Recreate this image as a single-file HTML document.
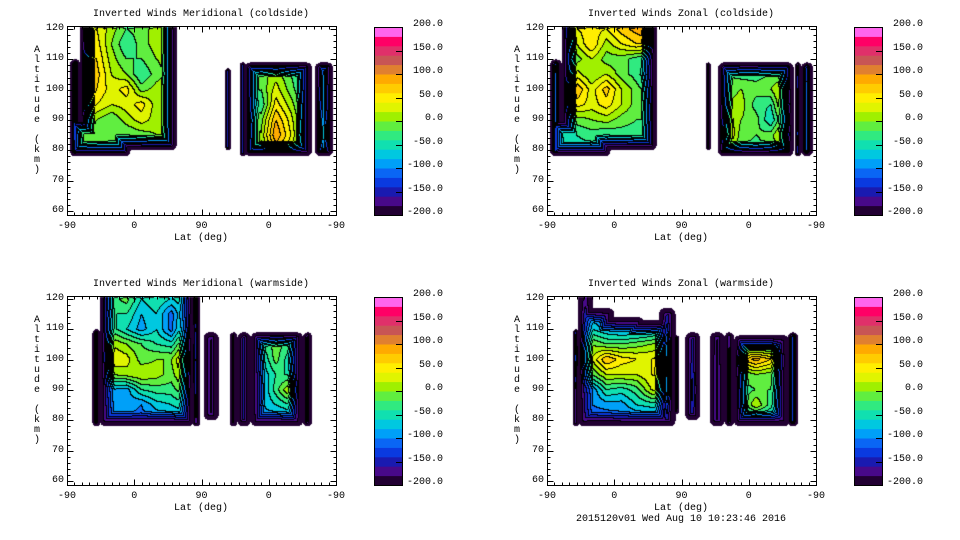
<!DOCTYPE html>
<html><head><meta charset="utf-8">
<style>
html,body{margin:0;padding:0;background:#fff;}
#root{position:relative;width:960px;height:540px;overflow:hidden;font-family:"Liberation Mono",monospace;font-size:10px;color:#000;}
.t{position:absolute;white-space:pre;line-height:10px;}
canvas,svg{position:absolute;left:0;top:0;}
</style></head>
<body>
<div id="root">
<canvas id="cv" width="960" height="540"></canvas>
<svg id="sv" width="960" height="540"></svg>
</div>
<script>
// grid columns: u = 0..360 step 20 (lat -90..90..-90), rows: alt 120..80 step 5
const gridU = [0,20,40,60,80,100,120,140,160,180,200,220,240,260,280,300,320,340,360];
const gridAlt = [120,115,110,105,100,95,90,85,80];
const levels = [-200,-180,-160,-140,-120,-100,-80,-60,-40,-20,0,20,40,60,80,100,120,140,160,180,200];
const cbarTicks = ["200.0","150.0","100.0","50.0","0.0","-50.0","-100.0","-150.0","-200.0"];
const xTickLabels = ["-90","0","90","0","-90"];
const yTickLabels = ["120","110","100","90","80","70","60"];

const tlGrid = [
[20,30,40,10,-20,-10,10,10,0,0,0,-20,-10,-10,-10,-10,-40,-60,-60],
[20,50,50,0,-40,-10,10,10,0,0,0,-20,0,-10,0,-20,-40,-60,-60],
[20,60,60,10,-20,-20,0,10,0,0,0,-20,0,-10,0,-20,-40,-60,-60],
[0,90,70,20,0,-40,-10,10,0,0,0,-20,10,-10,10,-20,-50,-60,-60],
[0,110,60,30,50,-10,10,10,0,0,0,-20,20,-20,30,-10,-50,-50,-60],
[0,80,40,20,30,50,10,10,0,0,0,-20,40,-40,50,10,-40,-40,-60],
[0,40,0,-20,10,30,10,10,0,0,0,-20,60,-10,80,30,-40,-30,-60],
[-10,0,-10,-20,-20,-10,0,0,0,0,0,-20,40,0,100,40,-40,-20,-60],
[-20,-10,-20,-20,-20,-20,-10,-10,0,0,0,-20,20,0,60,20,-40,-40,-60]];
const trGrid = [
[0,0,40,50,40,70,90,110,0,0,0,-40,-40,-40,-40,-40,-40,0,0],
[0,-10,20,60,10,40,60,60,0,0,0,-40,-40,-40,-40,-40,-40,0,0],
[0,-40,-10,20,-10,-10,-30,-50,0,0,0,-40,-40,-40,-40,-40,-40,-40,-40],
[0,-20,30,0,20,-10,-30,-70,0,0,0,-40,-20,-30,-30,-20,-20,-40,-40],
[0,30,80,30,70,20,-10,-40,0,0,0,-40,-10,0,-10,0,40,40,-40],
[0,20,50,30,50,20,-10,-20,0,0,0,-40,0,10,-30,-40,50,50,-40],
[0,-20,-10,0,10,-10,-20,-20,0,0,0,-40,40,0,-10,-60,20,60,-40],
[0,-40,-40,-30,-40,-30,-30,-30,0,0,0,-40,60,-10,-20,-10,50,60,-40],
[0,-50,-50,-50,-50,-50,-40,-40,0,0,0,-40,20,-20,-30,-20,20,20,-40]];
const blGrid = [
[0,0,-60,-30,-10,-60,-40,-60,-40,0,0,-120,-120,-80,-60,-80,-120,0,0],
[0,0,-60,-40,-40,-80,-60,-110,-40,0,0,-120,-120,-80,-60,-80,-120,0,0],
[0,0,-60,-30,-60,-90,-60,-110,-20,-130,-130,-120,-120,-60,-40,-60,-120,0,0],
[0,0,-40,20,0,-20,-40,-50,20,-130,-130,-120,-120,-40,-10,-30,-120,0,0],
[0,0,-30,40,30,-10,0,0,60,-130,-130,-120,-120,-70,-10,-60,-120,0,0],
[0,0,-50,0,10,20,10,-10,40,-130,-130,-120,-120,-80,-40,-40,-120,0,0],
[0,0,-60,-80,-90,-40,-30,-30,0,-130,-130,-120,-120,-90,-30,30,-120,0,0],
[0,0,-80,-90,-90,-100,-70,-60,-40,-130,-130,-120,-120,-80,-60,-40,-120,0,0],
[0,0,-100,-100,-100,-110,-100,-100,-80,-130,-130,-120,-120,-100,-100,-90,-120,0,0]];
const brGrid = [
[0,0,-120,-140,-180,-180,-180,-180,-180,0,0,0,0,0,0,0,0,0,0],
[0,0,-60,-100,-130,-140,-140,-140,-120,0,0,0,0,0,0,0,0,0,0],
[0,0,0,-60,-80,-90,-90,-80,-60,-120,-120,-140,-140,-60,-60,-60,-140,0,0],
[0,0,60,0,-20,-20,-10,0,20,-120,-120,-140,-140,-60,-60,-60,-140,0,0],
[0,0,90,20,80,50,40,40,60,-120,-120,-140,-130,60,90,60,-140,0,0],
[0,0,30,-20,20,20,20,40,50,-100,-100,-140,-120,-20,0,-10,-140,0,0],
[0,0,-60,-100,-40,-50,-30,20,40,-90,-90,-140,-120,-30,-20,-20,-140,0,0],
[0,0,-90,-100,-90,-90,-60,-50,-50,-100,-100,-140,-120,-40,20,-30,-140,0,0],
[0,0,-110,-120,-120,-110,-110,-110,-100,-120,-120,-140,-120,-80,-80,-80,-140,0,0]];

// data-coverage regions: [u0,u1,alt0,alt1,falloffPx]
const tlRegions = [[4,18,78,110,8],[18,147,80,125,13],[4,85,78,90,13],[212,219,80,107,4],[231,240,78,109,6],[238,328,78,109,13],[332,356,78,109,9]];
const trRegions = [[4,20,78,110,8],[20,147,80,125,13],[4,85,78,90,13],[213,219,80,109,4],[229,330,78,109,13],[332,340,78,109,5],[340,356,78,109,8]];
const blRegions = [[34,45,78,110,6],[44,170,78,125,13],[168,178,78,125,5],[183,203,80,109,9],[218,228,78,109,6],[228,246,78,109,8],[246,316,78,109,13],[316,328,78,109,6]];
const brRegions = [[35,43,78,110,5],[42,62,78,125,12],[42,90,78,117,13],[42,130,78,114,13],[42,165,78,113,13],[150,172,78,117,12],[170,177,82,108,4],[185,205,80,109,9],[218,238,78,109,8],[238,250,78,109,6],[250,325,78,108,13],[322,336,78,109,6]];

const bandColors = ["#220033","#48098a","#1a1ab0","#0a3ae0","#0a66f5","#00a0f8","#00c8e0","#10e0b0","#30ea80","#60ee40",
"#a0f000","#e0f400","#ffee00","#ffcc00","#ffaa00","#e08030","#c85555","#e0306a","#ff0066","#ff44bb"];
const bandTop = "#ff66ee";

const panels = [
 {name:"meridional-coldside",title:"Inverted Winds Meridional (coldside)",ox:0,oy:0,grid:tlGrid,regions:tlRegions},
 {name:"zonal-coldside",title:"Inverted Winds Zonal (coldside)",ox:480,oy:0,grid:trGrid,regions:trRegions},
 {name:"meridional-warmside",title:"Inverted Winds Meridional (warmside)",ox:0,oy:270,grid:blGrid,regions:blRegions},
 {name:"zonal-warmside",title:"Inverted Winds Zonal (warmside)",ox:480,oy:270,grid:brGrid,regions:brRegions}
];

function xOf(p,u){return 67+p.ox+u*269/360;}
function yOf(p,a){return 29+p.oy+(120-a)*182/60;}
function uOf(p,x){return (x-67-p.ox)*360/269;}
function aOf(p,y){return 120-(y-29-p.oy)*60/182;}
function gridVal(g,u,a){
  let fu=u/20; fu=Math.max(0,Math.min(17.999,fu));
  let fa=(120-a)/5; fa=Math.max(0,Math.min(7.999,fa));
  const i=Math.floor(fu),j=Math.floor(fa),tu=fu-i,ta=fa-j;
  return (g[j][i]*(1-tu)+g[j][i+1]*tu)*(1-ta)+(g[j+1][i]*(1-tu)+g[j+1][i+1]*tu)*ta;
}
function sdf(px,py,r){
  const cx=(r[0]+r[2])/2,cy=(r[1]+r[3])/2,hx=(r[2]-r[0])/2,hy=(r[3]-r[1])/2;
  const rad=Math.min(r[4],hx,hy);
  const qx=Math.abs(px-cx)-(hx-rad),qy=Math.abs(py-cy)-(hy-rad);
  const out=Math.hypot(Math.max(qx,0),Math.max(qy,0))+Math.min(Math.max(qx,qy),0)-rad;
  return -out;
}
function hex(c){return [parseInt(c.substr(1,2),16),parseInt(c.substr(3,2),16),parseInt(c.substr(5,2),16)];}
const rgb=bandColors.map(hex);

const cv=document.getElementById('cv');const ctx=cv.getContext('2d');
panels.forEach(p=>{
  const X0=68+p.ox,Y0=27+p.oy,W=267,H=187;
  const rects=p.regions.map(r=>[xOf(p,r[0]),yOf(p,r[3]),xOf(p,r[1]),yOf(p,r[2]),6,r[4]]);
  const band=new Int16Array(W*H);
  for(let y=0;y<H;y++)for(let x=0;x<W;x++){
    const px=X0+x+0.5,py=Y0+y+0.5;
    let s=-1;
    rects.forEach(r=>{const d=sdf(px,py,r);if(d>=0){const pad=Math.min(2,r[5]*0.25);let t=Math.max(0,Math.min(1,(d-pad)/r[5]));if(t>s)s=t;}});
    if(s<0){band[y*W+x]=-1;continue;}
    const v=gridVal(p.grid,uOf(p,px),aOf(p,py));
    const val=-200+(v+200)*s;
    let k=Math.floor((val+200)/20);k=Math.max(0,Math.min(19,k));
    band[y*W+x]=k;
  }
  const img=ctx.createImageData(W,H);
  for(let y=0;y<H;y++)for(let x=0;x<W;x++){
    const i=y*W+x,k=band[i];let c;
    if(k<0)c=[255,255,255];
    else{
      const r=x<W-1?band[i+1]:k,b=y<H-1?band[i+W]:k;
      if((r>=0&&r!==k)||(b>=0&&b!==k))c=[0,0,0];else c=rgb[k];
    }
    img.data[i*4]=c[0];img.data[i*4+1]=c[1];img.data[i*4+2]=c[2];img.data[i*4+3]=255;
  }
  ctx.putImageData(img,X0,Y0);
});

const sv=document.getElementById('sv');const NS="http://www.w3.org/2000/svg";
const root=document.getElementById('root');
function line(x1,y1,x2,y2,name){const l=document.createElementNS(NS,'line');l.setAttribute('x1',x1);l.setAttribute('y1',y1);l.setAttribute('x2',x2);l.setAttribute('y2',y2);l.setAttribute('stroke','#000');l.setAttribute('stroke-width','1');


sv.appendChild(l);return l;}
function rect(x,y,w,h,fill,name){const r=document.createElementNS(NS,'rect');r.setAttribute('x',x);r.setAttribute('y',y);r.setAttribute('width',w);r.setAttribute('height',h);r.setAttribute('fill',fill);


sv.appendChild(r);return r;}
function text(str,x,y,align,name){const d=document.createElement('div');d.className='t';d.textContent=str;d.style.top=(y-5)+'px';
if(align==='c'){d.style.left=(x-200)+'px';d.style.width='400px';d.style.textAlign='center';}
else if(align==='r'){d.style.left=(x-200)+'px';d.style.width='200px';d.style.textAlign='right';}
else d.style.left=x+'px';


root.appendChild(d);return d;}

panels.forEach(p=>{
  const L=67.5+p.ox,T=26.5+p.oy,R=336.5+p.ox,B=215.5+p.oy;
  const box=rect(L,T,R-L,B-T,'none',p.name+'-plot-frame');box.setAttribute('stroke','#000');
  text(p.title,201+p.ox,15+p.oy,'c',p.name+'-title');
  for(let u=0;u<=360;u+=10){const x=Math.round(xOf(p,u))+0.5;const len=(u%90===0)?6:3;
    line(x,B,x,B-len,p.name+'-x-tick');line(x,T,x,T+len,p.name+'-x-tick');}
  xTickLabels.forEach((s,i)=>text(s,xOf(p,i*90),227+p.oy,'c',p.name+'-x-tick-label'));
  for(let a=60;a<=120;a+=2){const y=Math.round(yOf(p,a))+0.5;const len=(a%10===0)?6:3;
    line(L,y,L+len,y,p.name+'-y-tick');line(R,y,R-len,y,p.name+'-y-tick');}
  yTickLabels.forEach((s,i)=>text(s,64+p.ox,yOf(p,120-i*10),'r',p.name+'-y-tick-label'));
  text('Lat (deg)',201+p.ox,239+p.oy,'c',p.name+'-x-axis-title');
  const ylab="Altitude (km)";
  for(let i=0;i<ylab.length;i++){const ch=ylab[i];if(ch===' ')continue;
    text(ch,37+p.ox,51+p.oy+i*10,'c',p.name+'-y-axis-title');}
  const cx=374+p.ox,cy=27+p.oy,cw=28,ch=188;
  for(let k=0;k<20;k++){const y0=cy+ch-(k+1)*ch/20;rect(cx,y0,cw,ch/20+0.5,k===19?bandTop:bandColors[k],p.name+'-colorbar-band');}
  const cb=rect(cx+0.5,cy+0.5,cw,ch,'none',p.name+'-colorbar-frame');cb.setAttribute('stroke','#000');
  cbarTicks.forEach((s,i)=>{const y=cy+i*ch/8;
    if(i>0&&i<8)line(cx+cw-6,Math.round(y)+0.5,cx+cw,Math.round(y)+0.5,p.name+'-colorbar-tick');
    text(s,443+p.ox,y-2,'r',p.name+'-colorbar-label');});
});
text('2015120v01 Wed Aug 10 10:23:46 2016',681,520,'c','timestamp-footer');
</script>
</body></html>
